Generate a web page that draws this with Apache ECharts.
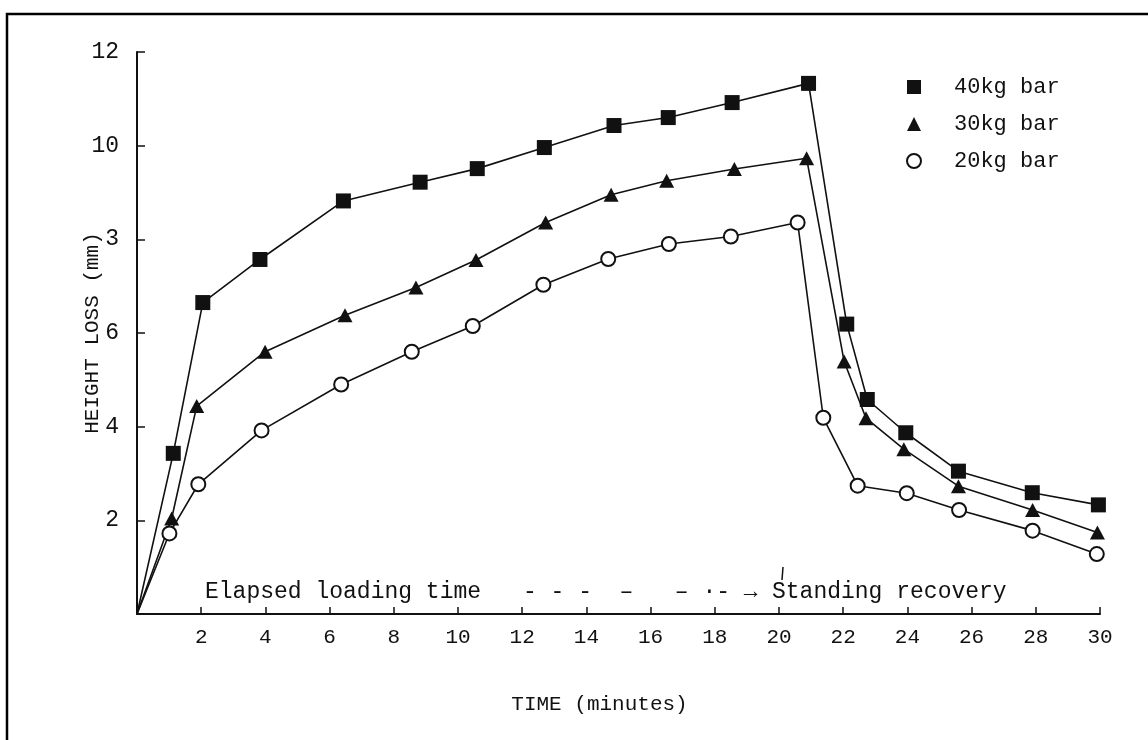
<!DOCTYPE html>
<html>
<head>
<meta charset="utf-8">
<script src="https://cdn.jsdelivr.net/npm/echarts@6/dist/echarts.min.js"></script>
<style>
  html, body { margin: 0; padding: 0; background: #fff; }
  #chart { width: 1148px; height: 740px; }
</style>
</head>
<body>
<div id="chart"></div>
<script>
// time (minutes) and height loss (mm)
var time40 = [0, 1.13, 2.05, 3.83, 6.43, 8.82, 10.6, 12.69, 14.86, 16.55, 18.54, 20.92, 22.11, 22.75, 23.95, 25.59, 27.89, 29.95];
var loss40 = [0, 3.43, 6.65, 7.57, 8.82, 9.22, 9.51, 9.96, 10.43, 10.6, 10.92, 11.33, 6.19, 4.58, 3.87, 3.05, 2.59, 2.33];

var time30 = [0, 1.08, 1.86, 3.99, 6.48, 8.69, 10.56, 12.73, 14.77, 16.5, 18.61, 20.86, 22.03, 22.71, 23.89, 25.59, 27.9, 29.92];
var loss30 = [0, 2.04, 4.44, 5.6, 6.38, 6.97, 7.56, 8.36, 8.95, 9.25, 9.5, 9.73, 5.39, 4.18, 3.52, 2.73, 2.22, 1.74];

var time20 = [0, 1.01, 1.91, 3.88, 6.36, 8.56, 10.46, 12.66, 14.68, 16.57, 18.5, 20.58, 21.38, 22.45, 23.98, 25.61, 27.9, 29.9];
var loss20 = [0, 1.72, 2.77, 3.92, 4.9, 5.6, 6.15, 7.03, 7.58, 7.9, 8.06, 8.36, 4.19, 2.74, 2.58, 2.22, 1.78, 1.28];

var seriesNames = ["40kg bar", "30kg bar", "20kg bar"];
// y tick labels as printed (the 8 is printed as "3")
var yTickValues = [0, 2, 4, 6, 8, 10, 12];
var yTickLabels = ["", "2", "4", "6", "3", "10", "12"];

var FONT = "Liberation Mono";

// lines start at the origin, but no marker is drawn there
function zip(xs, ys) {
  return xs.map(function (x, i) {
    if (x === 0 && ys[i] === 0) {
      return { value: [x, ys[i]], symbol: "none" };
    }
    return [x, ys[i]];
  });
}

var chart = echarts.init(document.getElementById("chart"));

chart.setOption({
  animation: false,
  backgroundColor: "#fff",
  grid: { left: 137, right: 48, top: 52, bottom: 126 },
  legend: {
    orient: "vertical",
    left: 901,
    top: 71,
    itemWidth: 14,
    itemHeight: 14,
    itemGap: 15,
    textStyle: {
      fontFamily: FONT,
      fontSize: 22,
      lineHeight: 22,
      color: "#111",
      padding: [0, 0, 0, 28]
    },
    data: [
      { name: seriesNames[0], icon: "rect" },
      { name: seriesNames[1], icon: "triangle" },
      { name: seriesNames[2], icon: "circle" }
    ]
  },
  xAxis: {
    type: "value",
    min: 0,
    max: 30,
    interval: 2,
    name: "TIME (minutes)",
    nameLocation: "middle",
    nameGap: 80,
    nameMoveOverlap: false,
    nameTextStyle: { fontFamily: FONT, fontSize: 21, color: "#111", padding: [0, 38, 0, 0] },
    axisLine: { lineStyle: { color: "#111", width: 2 } },
    axisTick: { inside: true, length: 7, lineStyle: { color: "#111", width: 1.5 } },
    axisLabel: {
      margin: 13,
      fontFamily: FONT,
      fontSize: 21,
      color: "#111",
      formatter: function (v) { return v === 0 ? "" : String(v); }
    },
    splitLine: { show: false }
  },
  yAxis: {
    type: "value",
    min: 0,
    max: 12,
    interval: 2,
    name: "HEIGHT LOSS (mm)",
    nameLocation: "middle",
    nameGap: 34,
    nameMoveOverlap: false,
    nameTextStyle: { fontFamily: FONT, fontSize: 21, color: "#111" },
    axisLine: { show: true, lineStyle: { color: "#111", width: 2 } },
    axisTick: { show: true, inside: true, length: 8, lineStyle: { color: "#111", width: 1.5 } },
    axisLabel: {
      margin: 18,
      fontFamily: FONT,
      fontSize: 23,
      color: "#111",
      formatter: function (v) {
        var i = yTickValues.indexOf(v);
        return i < 0 ? "" : yTickLabels[i];
      }
    },
    splitLine: { show: false }
  },
  graphic: [
    {
      type: "rect",
      shape: { x: 7, y: 14, width: 1160, height: 800 },
      style: { fill: null, stroke: "#000", lineWidth: 2.5 },
      silent: true
    },
    {
      type: "text",
      left: 205,
      top: 580,
      style: { text: "Elapsed loading time", font: "23px " + FONT, fill: "#111" }
    },
    {
      type: "text",
      left: 523,
      top: 580,
      style: { text: "- - -  \u2013   \u2013 \u00b7- \u2192", font: "23px " + FONT, fill: "#111" }
    },
    {
      type: "text",
      left: 772,
      top: 580,
      style: { text: "Standing recovery", font: "23px " + FONT, fill: "#111" }
    },
    {
      type: "line",
      shape: { x1: 783, y1: 567, x2: 782, y2: 580 },
      style: { stroke: "#111", lineWidth: 1.5 }
    }
  ],
  series: [
    {
      name: seriesNames[0],
      type: "line",
      data: zip(time40, loss40),
      symbol: "rect",
      symbolSize: 15,
      showAllSymbol: true,
      lineStyle: { color: "#111", width: 1.6 },
      itemStyle: { color: "#111" }
    },
    {
      name: seriesNames[1],
      type: "line",
      data: zip(time30, loss30),
      symbol: "triangle",
      symbolSize: [15, 14],
      showAllSymbol: true,
      lineStyle: { color: "#111", width: 1.6 },
      itemStyle: { color: "#111" }
    },
    {
      name: seriesNames[2],
      type: "line",
      data: zip(time20, loss20),
      symbol: "circle",
      symbolSize: 14,
      showAllSymbol: true,
      lineStyle: { color: "#111", width: 1.6 },
      itemStyle: { color: "#fff", borderColor: "#111", borderWidth: 2 }
    }
  ]
});
</script>
</body>
</html>
